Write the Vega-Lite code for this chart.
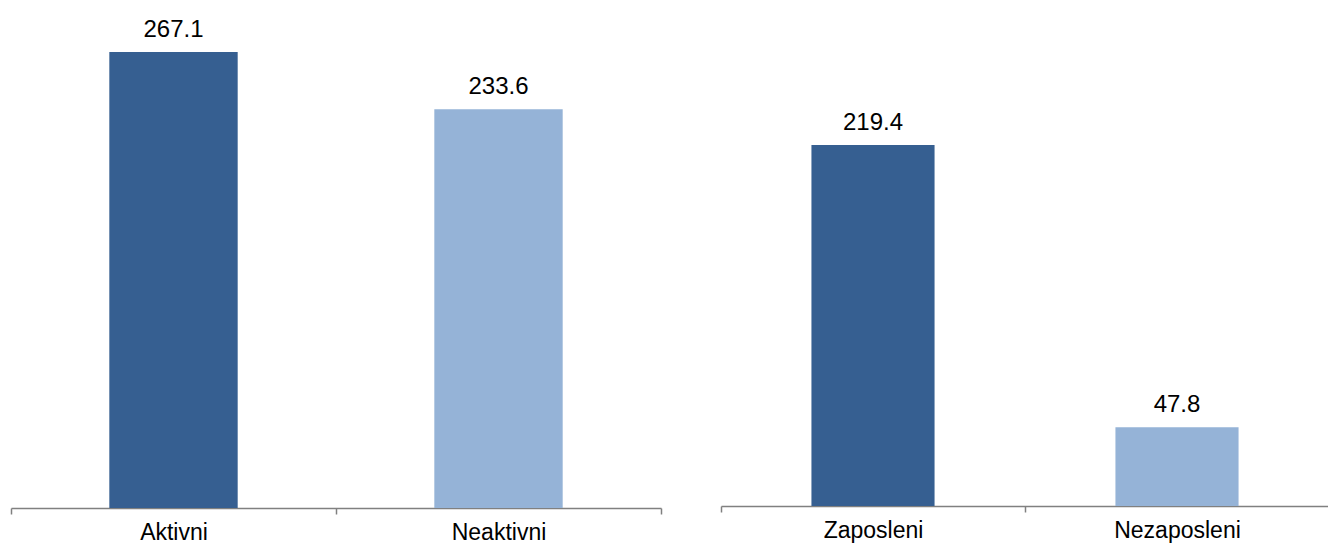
{
  "$schema": "https://vega.github.io/schema/vega-lite/v6.json",
  "padding": {"left": 10, "top": 18, "right": 0, "bottom": 0},
  "background": "white",
  "config": {
    "view": {"stroke": null},
    "font": "Liberation Sans",
    "concat": {"spacing": 58}
  },
  "datasets": {
    "left": [
      {"category": "Aktivni", "value": 267.1, "shade": "dark"},
      {"category": "Neaktivni", "value": 233.6, "shade": "light"}
    ],
    "right": [
      {"category": "Zaposleni", "value": 219.4, "shade": "dark"},
      {"category": "Nezaposleni", "value": 47.8, "shade": "light"}
    ]
  },
  "hconcat": [
    {
      "data": {"name": "left"},
      "width": 650,
      "height": 488,
      "encoding": {
        "x": {
          "field": "category", "type": "nominal", "sort": null,
          "scale": {"paddingInner": 0, "paddingOuter": 0},
          "axis": {"title": null, "labelAngle": 0, "tickBand": "extent", "domainColor": "#808080", "tickColor": "#808080", "tickSize": 6, "labelFontSize": 23, "labelColor": "#000000", "labelPadding": 7, "domainWidth": 1.5, "tickWidth": 1.5, "labelFont": "Liberation Sans"}
        },
        "y": {"field": "value", "type": "quantitative", "scale": {"domain": [0, 285.9], "nice": false}, "axis": null}
      },
      "layer": [
        {
          "mark": {"type": "bar", "width": {"band": 0.395}},
          "encoding": {
            "color": {"field": "shade", "type": "nominal", "scale": {"domain": ["dark", "light"], "range": ["#365F91", "#95B3D7"]}, "legend": null}
          }
        },
        {
          "mark": {"type": "text", "baseline": "alphabetic", "dy": -15, "fontSize": 24, "color": "#000000", "font": "Liberation Sans"},
          "encoding": {"text": {"field": "value", "type": "quantitative", "format": ".1f"}}
        }
      ]
    },
    {
      "data": {"name": "right"},
      "width": 608,
      "height": 486,
      "encoding": {
        "x": {
          "field": "category", "type": "nominal", "sort": null,
          "scale": {"paddingInner": 0, "paddingOuter": 0},
          "axis": {"title": null, "labelAngle": 0, "tickBand": "extent", "domainColor": "#808080", "tickColor": "#808080", "tickSize": 6, "labelFontSize": 23, "labelColor": "#000000", "labelPadding": 7, "domainWidth": 1.5, "tickWidth": 1.5, "labelFont": "Liberation Sans"}
        },
        "y": {"field": "value", "type": "quantitative", "scale": {"domain": [0, 295.4], "nice": false}, "axis": null}
      },
      "layer": [
        {
          "mark": {"type": "bar", "width": {"band": 0.405}},
          "encoding": {
            "color": {"field": "shade", "type": "nominal", "scale": {"domain": ["dark", "light"], "range": ["#365F91", "#95B3D7"]}, "legend": null}
          }
        },
        {
          "mark": {"type": "text", "baseline": "alphabetic", "dy": -15, "fontSize": 24, "color": "#000000", "font": "Liberation Sans"},
          "encoding": {"text": {"field": "value", "type": "quantitative", "format": ".1f"}}
        }
      ]
    }
  ]
}
